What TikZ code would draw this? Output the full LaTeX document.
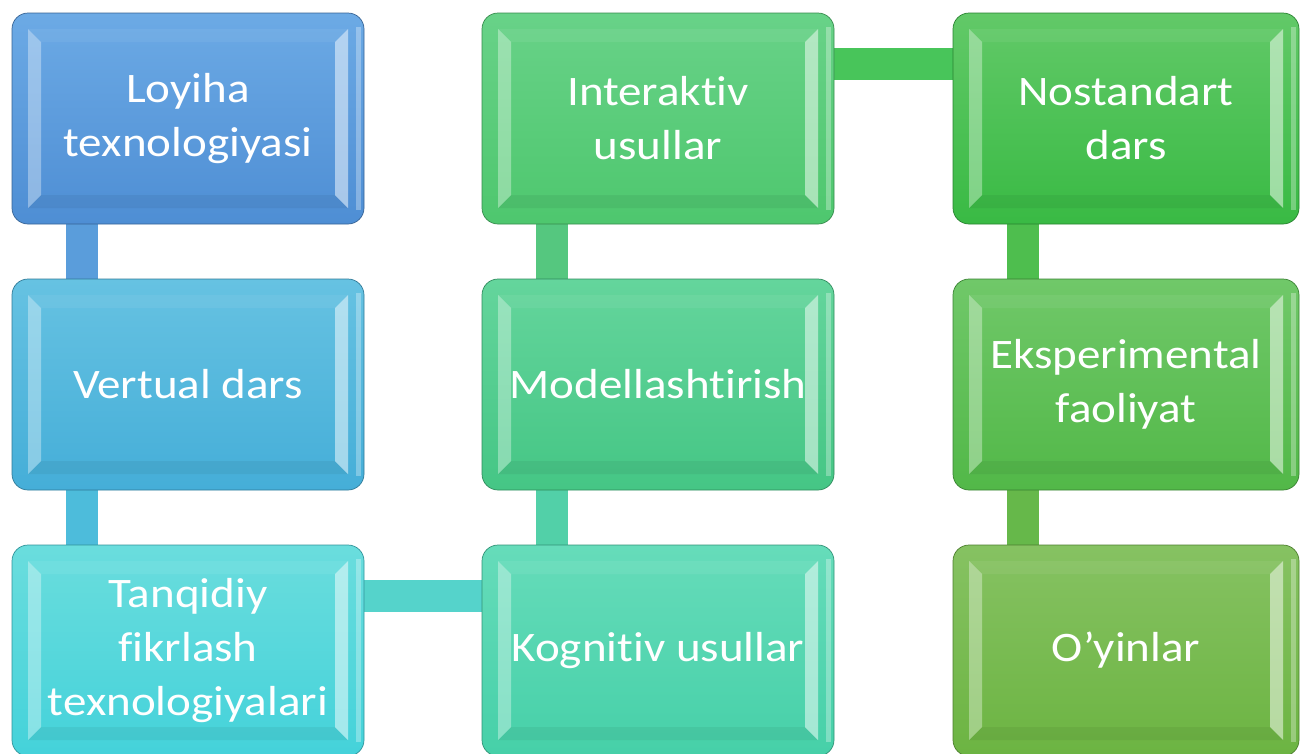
\documentclass[tikz,border=0pt]{standalone}
\usepackage{fontspec}
\setmainfont[FakeStretch=1.12, Ligatures=NoCommon]{Carlito}
\usetikzlibrary{calc,backgrounds}
\definecolor{cA1}{HTML}{6CAAE5}\definecolor{cA2}{HTML}{4E8ED4}
\definecolor{cB1}{HTML}{66C2E2}\definecolor{cB2}{HTML}{45AED8}
\definecolor{cC1}{HTML}{6ADDDD}\definecolor{cC2}{HTML}{44D2DA}
\definecolor{cD1}{HTML}{68D288}\definecolor{cD2}{HTML}{4EC76E}
\definecolor{cE1}{HTML}{64D59C}\definecolor{cE2}{HTML}{45C685}
\definecolor{cF1}{HTML}{66DCBA}\definecolor{cF2}{HTML}{46D0A8}
\definecolor{cG1}{HTML}{62C968}\definecolor{cG2}{HTML}{39BA44}
\definecolor{cH1}{HTML}{70C869}\definecolor{cH2}{HTML}{52B848}
\definecolor{cI1}{HTML}{86C262}\definecolor{cI2}{HTML}{6CB442}
\definecolor{kA}{HTML}{5A9DDB}\definecolor{kB}{HTML}{4DBCDB}
\definecolor{kC}{HTML}{55D3CB}\definecolor{kD}{HTML}{55C77F}
\definecolor{kE}{HTML}{52D0A8}\definecolor{kF}{HTML}{48C55A}
\definecolor{kG}{HTML}{4EBE4E}\definecolor{kH}{HTML}{66B84A}
\tikzset{
  bevelbox/.style n args={2}{rectangle, rounded corners=16pt,
    minimum width=352pt, minimum height=211pt, inner sep=0pt,
    top color=#1, bottom color=#2, draw=#2!70!black, line width=0.7pt,
    text=white, align=center, font=\fontsize{42}{54}\selectfont,
    path picture={
      \coordinate (nw) at (path picture bounding box.north west);
      \coordinate (se) at (path picture bounding box.south east);
      \coordinate (ne) at (path picture bounding box.north east);
      \coordinate (sw) at (path picture bounding box.south west);
      \begin{scope}[sharp corners]
      \fill[white, opacity=0.06] ($(nw)+(16pt,-16pt)$) -- ($(ne)+(-16pt,-16pt)$) -- ($(ne)+(-29pt,-29pt)$) -- ($(nw)+(29pt,-29pt)$) -- cycle;
      \fill[black, opacity=0.05] ($(sw)+(16pt,16pt)$) -- ($(se)+(-16pt,16pt)$) -- ($(se)+(-29pt,29pt)$) -- ($(sw)+(29pt,29pt)$) -- cycle;
      \fill[white, opacity=0.35] ($(nw)+(16pt,-16pt)$) -- ($(nw)+(29pt,-29pt)$) -- ($(sw)+(29pt,29pt)$) -- ($(sw)+(16pt,16pt)$) -- cycle;
      \fill[white, opacity=0.50] ($(ne)+(-16pt,-16pt)$) -- ($(ne)+(-29pt,-29pt)$) -- ($(se)+(-29pt,29pt)$) -- ($(se)+(-16pt,16pt)$) -- cycle;
      \fill[white, opacity=0.30] ($(ne)+(-8pt,-14pt)$) rectangle ($(se)+(-3pt,14pt)$);
      \end{scope}
    }},
  conn/.style={line width=32pt}
}
\begin{document}
\begin{tikzpicture}[x=1pt,y=-1pt]
\useasboundingbox (0,0) rectangle (1300,753);
% nodes
\node[bevelbox={cA1}{cA2}] (loy) at (188,118.5) {Loyiha\\texnologiyasi};
\node[bevelbox={cB1}{cB2}] (ver) at (188,384.5) {Vertual dars};
\node[bevelbox={cC1}{cC2}] (tan) at (188,650.5) {Tanqidiy\\fikrlash\\texnologiyalari};
\node[bevelbox={cD1}{cD2}] (int) at (658,118.5) {Interaktiv\\usullar};
\node[bevelbox={cE1}{cE2}] (mod) at (658,384.5) {Modellashtirish};
\node[bevelbox={cF1}{cF2}] (kog) at (658,650.5) {Kognitiv usullar};
\node[bevelbox={cG1}{cG2}, minimum width=346pt] (nos) at (1126,118.5) {Nostandart\\dars};
\node[bevelbox={cH1}{cH2}, minimum width=346pt] (eks) at (1126,384.5) {Eksperimental\\faoliyat};
\node[bevelbox={cI1}{cI2}, minimum width=346pt] (oyi) at (1126,650.5) {O’yinlar};
% connectors (behind the boxes)
\begin{pgfonlayer}{background}
\draw[conn, kA] ([xshift=70pt]loy.south west) -- ([xshift=70pt]ver.north west);
\draw[conn, kB] ([xshift=70pt]ver.south west) -- ([xshift=70pt]tan.north west);
\draw[conn, kC] ([yshift=-51pt]tan.north east) -- ([yshift=-51pt]kog.north west);
\draw[conn, kE] ([xshift=70pt]kog.north west) -- ([xshift=70pt]mod.south west);
\draw[conn, kD] ([xshift=70pt]mod.north west) -- ([xshift=70pt]int.south west);
\draw[conn, kF] ([yshift=-51pt]int.north east) -- ([yshift=-51pt]nos.north west);
\draw[conn, kG] ([xshift=70pt]nos.south west) -- ([xshift=70pt]eks.north west);
\draw[conn, kH] ([xshift=70pt]eks.south west) -- ([xshift=70pt]oyi.north west);
\end{pgfonlayer}
\end{tikzpicture}
\end{document}
